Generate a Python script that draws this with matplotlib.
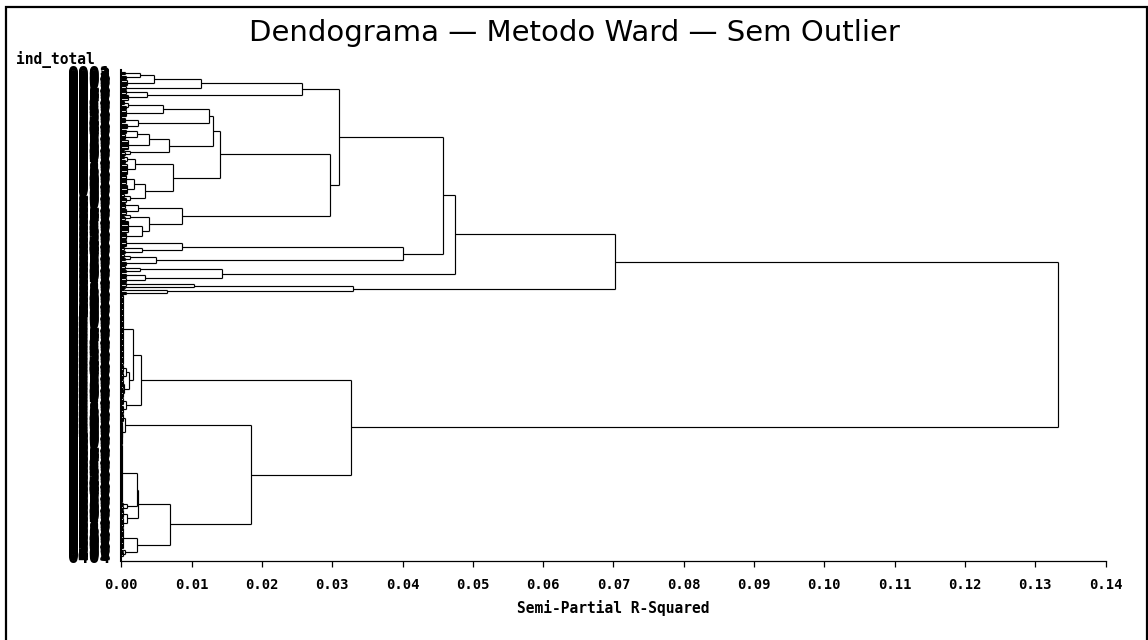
import numpy as np
import matplotlib
matplotlib.use("Agg")
import matplotlib.pyplot as plt
from matplotlib.patches import Rectangle

# dendrogram pieces
# a merge is (height, upper child, lower child), a leaf bundle is (n_leaves, height)
top_a = (0.0257,
         (0.0113,
          (0.0046, (0.0027, (3, 0.0005), (4, 0.0007)), (5, 0.0008)),
          (3, 0.0006)),
         (0.0036, (4, 0.0006), (5, 0.0009)))

top_b1 = (0.0131,
          (0.0125,
           (0.0060, (0.0010, (4, 0.0004), (4, 0.0006)), (6, 0.0007)),
           (0.0024, (5, 0.0005), (5, 0.0008))),
          (0.0068,
           (0.0040, (0.0022, (4, 0.0006), (5, 0.0005)), (8, 0.0009)),
           (0.0012, (2, 0.0004), (3, 0.0005))))

top_b2 = (0.0074,
          (0.0020, (0.0008, (3, 0.0004), (4, 0.0005)), (9, 0.0008)),
          (0.0034,
           (0.0018, (8, 0.0006), (8, 0.0008)),
           (0.0012, (3, 0.0004), (4, 0.0006))))

top_b3 = (0.0086,
          (0.0024, (5, 0.0005), (5, 0.0007)),
          (0.0040,
           (0.0012, (2, 0.0004), (3, 0.0005)),
           (0.0029, (10, 0.0009), (6, 0.0006))))

top_c = (0.0400,
         (0.0087, (6, 0.0006), (0.0030, (3, 0.0004), (3, 0.0005))),
         (0.0049, (0.0012, (3, 0.0004), (3, 0.0005)), (4, 0.0006)))

top_d = (0.0143,
         (0.0027, (3, 0.0005), (3, 0.0006)),
         (0.0034, (4, 0.0006), (4, 0.0007)))

top_e = (0.0329,
         (0.0104, (3, 0.0006), (2, 0.0005)),
         (0.0065, (2, 0.0004), (3, 0.0007)))

bot_a = (0.0028,
         (0.0016,
          (58, 0.0002),
          (0.0011,
           (0.0006, (7, 0.0003), (6, 0.0003)),
           (0.0004, (7, 0.0002), (8, 0.0003)))),
         (0.0006, (6, 0.0002), (7, 0.0003)))

bot_b = (0.0005, (7, 0.0002), (0.0001, (7, 0.0001), (12, 0.0001)))

bot_c = (0.0069,
         (0.0024,
          (0.0022, (48, 0.0001), (0.0008, (3, 0.0003), (3, 0.0002))),
          (0.0008, (7, 0.0003), (8, 0.0002))),
         (0.0022, (18, 0.0002), (0.0005, (2, 0.0002), (4, 0.0003))))

top_cluster = (0.0702,
               (0.0474,
                (0.0458,
                 (0.0309, top_a, (0.0297, (0.0140, top_b1, top_b2), top_b3)),
                 top_c),
                top_d),
               top_e)
bottom_cluster = (0.0327, bot_a, (0.0185, bot_b, bot_c))
root = (0.1332, top_cluster, bottom_cluster)

x_ticks = [0.00, 0.01, 0.02, 0.03, 0.04, 0.05, 0.06, 0.07,
           0.08, 0.09, 0.10, 0.11, 0.12, 0.13, 0.14]

h_lines = []   # (y, x0, x1)
v_lines = []   # (x, y0, y1)


def layout(node, start):
    if len(node) == 2:
        n, h = node
        ys = start + np.arange(n)
        if n == 1:
            return float(start), 0.0, start + 1
        for y in ys:
            h_lines.append((y, 0.0, h))
        v_lines.append((h, ys[0], ys[-1]))
        return (ys[0] + ys[-1]) / 2, h, start + n
    h, a, b = node
    ya, ha, nxt = layout(a, start)
    yb, hb, nxt = layout(b, nxt)
    h_lines.append((ya, ha, h))
    h_lines.append((yb, hb, h))
    v_lines.append((h, ya, yb))
    return (ya + yb) / 2, h, nxt


_, _, n_leaves = layout(root, 0)
leaf_labels = [f"{i:04d}" for i in range(1, n_leaves + 1)]

W, H = 1148, 640
fig = plt.figure(figsize=(W / 100, H / 100), dpi=100)
ax = fig.add_axes([121.3 / W, (H - 560.7) / H, (1105.5 - 121.3) / W, (560.7 - 70) / H])

hl = np.array(h_lines)
vl = np.array(v_lines)
ax.hlines(hl[:, 0], hl[:, 1], hl[:, 2], colors="black", lw=0.85)
ax.vlines(vl[:, 0], vl[:, 1], vl[:, 2], colors="black", lw=0.85)

ax.set_xlim(0, 0.14)
ax.set_ylim(407.25, -1.7)
for s in ["top", "right"]:
    ax.spines[s].set_visible(False)
ax.spines["left"].set_linewidth(1.5)
ax.spines["bottom"].set_linewidth(0.9)

ax.set_xticks(x_ticks)
ax.set_xticklabels([f"{v:.2f}" for v in x_ticks],
                   fontfamily="DejaVu Sans Mono", fontweight="bold", fontsize=10)
ax.tick_params(axis="x", direction="out", length=4.5, width=0.9, pad=8)

ax.set_yticks(np.arange(n_leaves))
ax.set_yticklabels(leaf_labels, fontfamily="DejaVu Sans Mono",
                   fontweight="bold", fontsize=13)
ax.tick_params(axis="y", length=0, pad=7)

ax.set_xlabel("Semi-Partial R-Squared", fontfamily="DejaVu Sans Mono",
              fontweight="bold", fontsize=10.5, labelpad=6)

fig.text(0.5, 1 - 33 / H, "Dendograma \u2014 Metodo Ward \u2014 Sem Outlier",
         ha="center", va="center", fontsize=21, fontfamily="DejaVu Sans")
fig.text(16 / W, 1 - 60 / H, "ind_total", ha="left", va="center",
         fontfamily="DejaVu Sans Mono", fontweight="bold", fontsize=10.5)

fig.patches.append(Rectangle((6 / W, -0.02), (1146.5 - 6) / W, 1.02 - 7 / H,
                             transform=fig.transFigure, fill=False,
                             edgecolor="black", lw=1.6))

fig.savefig("out.png", dpi=100)
